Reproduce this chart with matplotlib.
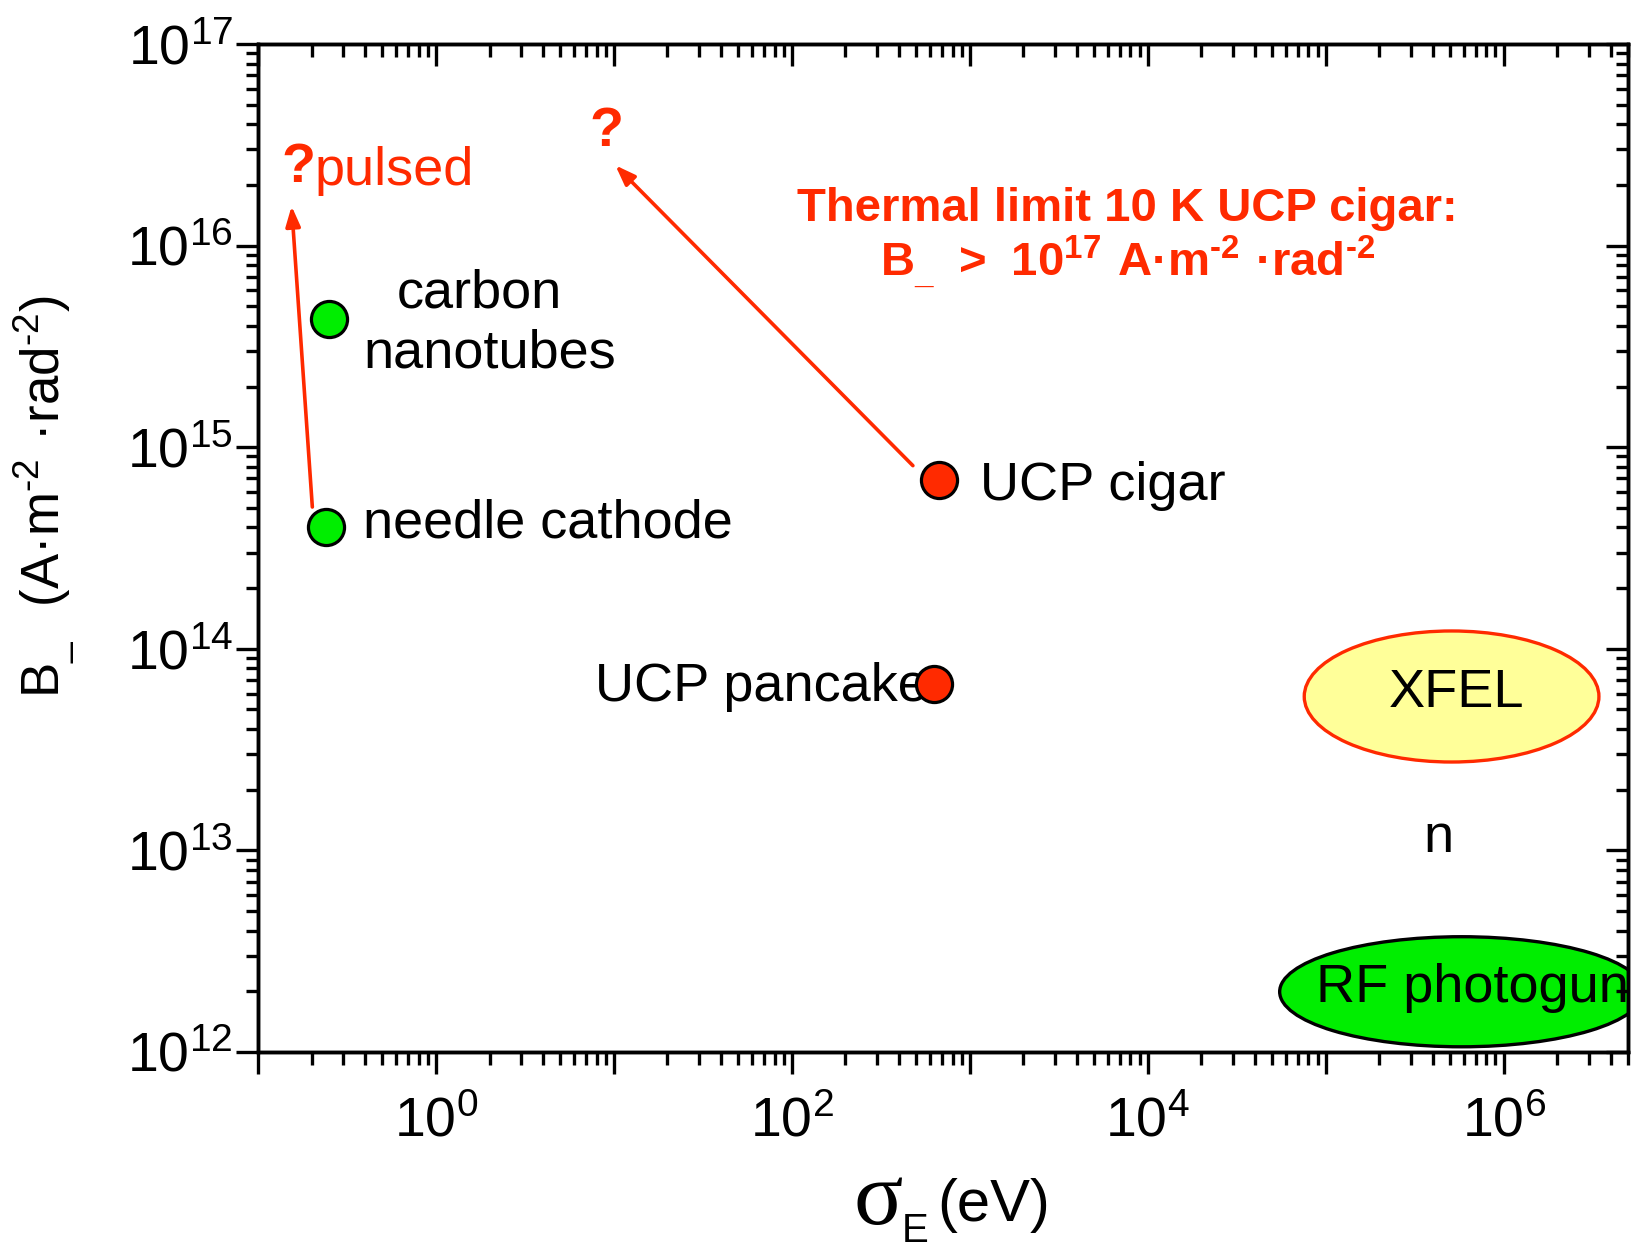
import matplotlib
matplotlib.use("Agg")
import numpy as np
import matplotlib.pyplot as plt
from matplotlib.patches import Ellipse
from matplotlib.transforms import Affine2D
from matplotlib.ticker import LogLocator, FuncFormatter, NullFormatter

plt.rcParams['font.family'] = ['Liberation Sans', 'DejaVu Sans']
plt.rcParams['mathtext.fontset'] = 'custom'
plt.rcParams['mathtext.rm'] = 'Liberation Sans'
plt.rcParams['mathtext.bf'] = 'Liberation Sans:bold'
plt.rcParams['mathtext.default'] = 'regular'

RED = '#ff2a00'
GREEN = '#00ee00'

# measured sources
green_x = [0.25, 0.24]
green_y = [4.3e15, 4.0e14]
red_x = [670, 630]
red_y = [6.9e14, 6.7e13]

# arrows: tail -> head
arrow_tail_x = [0.202, 479]
arrow_tail_y = [5.05e14, 8.1e14]
arrow_head_x = [0.1545, 10.2]
arrow_head_y = [1.57e16, 2.5e16]

# regions (ellipses), size in decades
region_names = ["XFEL", "RF photogun"]
region_x = [5.1e5, 5.8e5]
region_y = [5.8e13, 1.99e12]
region_wdec = [1.656, 2.044]
region_hdec = [0.650, 0.546]
region_fill = ['#ffff99', GREEN]
region_edge = [RED, 'black']

xlim = (0.1, 5e6)
ylim = (1e12, 1e17)

W, H = 1633, 1248
fig = plt.figure(figsize=(W / 100, H / 100), dpi=100)
AL, AR, AT, AB = 258, 1628, 44, 1052
ax = fig.add_axes([AL / W, 1 - AB / H, (AR - AL) / W, (AB - AT) / H])
ax.set_xscale('log')
ax.set_yscale('log')
ax.set_xlim(*xlim)
ax.set_ylim(*ylim)


def frac(px, py):
    # reference pixel -> axes fraction
    return (px - AL) / (AR - AL), 1 - (py - AT) / (AB - AT)


def ffrac(px, py):
    return px / W, 1 - py / H


# ellipses drawn in log space
lx0, lx1 = np.log10(xlim)
ly0, ly1 = np.log10(ylim)
logtrans = Affine2D().translate(-lx0, -ly0).scale(1 / (lx1 - lx0), 1 / (ly1 - ly0)) + ax.transAxes
for i in range(len(region_names)):
    e = Ellipse((np.log10(region_x[i]), np.log10(region_y[i])), region_wdec[i], region_hdec[i],
                facecolor=region_fill[i], edgecolor=region_edge[i], lw=2.4,
                transform=logtrans, zorder=1)
    ax.add_patch(e)

ax.plot(green_x, green_y, 'o', ms=26, mfc=GREEN, mec='black', mew=2.3, zorder=5, ls='none')
ax.plot(red_x, red_y, 'o', ms=26, mfc=RED, mec='black', mew=2.3, zorder=5, ls='none')

for i in range(len(arrow_tail_x)):
    ax.annotate('', xy=(arrow_head_x[i], arrow_head_y[i]),
                xytext=(arrow_tail_x[i], arrow_tail_y[i]),
                arrowprops=dict(arrowstyle='-|>,head_length=0.6,head_width=0.22',
                                color=RED, lw=2.6, mutation_scale=20,
                                shrinkA=0, shrinkB=0), zorder=4)

FS = 39
lab = dict(fontsize=FS, color='black', transform=ax.transAxes, va='baseline', zorder=3)
ax.text(*frac(397, 308), 'carbon', **lab)
ax.text(*frac(363, 368), 'nanotubes', **lab)
ax.text(*frac(363, 537), 'needle cathode', **lab)
ax.text(*frac(980, 500), 'UCP cigar', **lab)
ax.text(*frac(595, 701), 'UCP pancake', **lab)
ax.text(*frac(1457, 707), region_names[0], ha='center', **lab)
ax.text(*frac(1316, 1002), region_names[1], clip_on=True, **lab)
ax.text(*frac(1423, 852), 'n', **lab)

red_lab = dict(color=RED, transform=ax.transAxes, va='baseline')
ax.text(*frac(281, 182), '?', fontsize=40, fontweight='bold', **red_lab)
ax.text(*frac(315, 185), 'pulsed', fontsize=FS, **red_lab)
ax.text(*frac(589, 146), '?', fontsize=40, fontweight='bold', **red_lab)
ax.text(*frac(1127, 221), 'Thermal limit 10 K UCP cigar:', fontsize=34,
        fontweight='bold', ha='center', **red_lab)
ax.text(*frac(1128, 276),
        r'$\mathbf{B_{\_}\ >\ 10^{17}\ A{·}m^{‐2}\ {·}rad^{‐2}}$',
        fontsize=34, ha='center', **red_lab)

# ticks
for side in ['left', 'right', 'top', 'bottom']:
    ax.spines[side].set_linewidth(2.4)
ax.xaxis.set_major_locator(LogLocator(base=10, numticks=20))
ax.xaxis.set_minor_locator(LogLocator(base=10, subs=np.arange(2, 10), numticks=20))
ax.yaxis.set_major_locator(LogLocator(base=10, numticks=20))
ax.yaxis.set_minor_locator(LogLocator(base=10, subs=np.arange(2, 10), numticks=20))
ax.xaxis.set_minor_formatter(NullFormatter())
ax.yaxis.set_minor_formatter(NullFormatter())


def xfmt(v, pos):
    k = int(round(np.log10(v)))
    return '$10^{%d}$' % k if k % 2 == 0 else ''


ax.xaxis.set_major_formatter(FuncFormatter(xfmt))
ax.yaxis.set_major_formatter(FuncFormatter(lambda v, p: '$10^{%d}$' % int(round(np.log10(v)))))
ax.tick_params(which='major', length=16, width=2.4, direction='out', labelsize=40)
ax.tick_params(which='minor', length=9, width=2.4, direction='out')
ax.tick_params(axis='x', which='major', pad=16)
ax.tick_params(axis='y', which='major', pad=2)

top = ax.twiny()
top.set_xscale('log')
top.set_xlim(*xlim)
top.xaxis.set_minor_locator(LogLocator(base=10, subs=np.arange(2, 10), numticks=20))
top.tick_params(which='major', length=16, width=2.4, direction='in', labeltop=False)
top.tick_params(which='minor', length=9, width=2.4, direction='in')
right = ax.twinx()
right.set_yscale('log')
right.set_ylim(*ylim)
right.yaxis.set_minor_locator(LogLocator(base=10, subs=np.arange(2, 10), numticks=20))
right.tick_params(which='major', length=16, width=2.4, direction='in', labelright=False)
right.tick_params(which='minor', length=9, width=2.4, direction='in')
for a in (top, right):
    for s in a.spines.values():
        s.set_linewidth(2.4)

# axis labels
fig.text(*ffrac(44, 497), r'$B_{\_}\ \ (A{·}m^{‐2}\ {·}rad^{‐2})$', fontsize=38,
         rotation=90, ha='center', va='center')
fig.text(*ffrac(854, 1224), 'σ', fontsize=66, family='Liberation Serif', va='baseline')
fig.text(*ffrac(902, 1242), 'E', fontsize=29, va='baseline')
fig.text(*ffrac(937, 1221), '(eV)', fontsize=43, va='baseline')

fig.savefig('out.png', dpi=100)
